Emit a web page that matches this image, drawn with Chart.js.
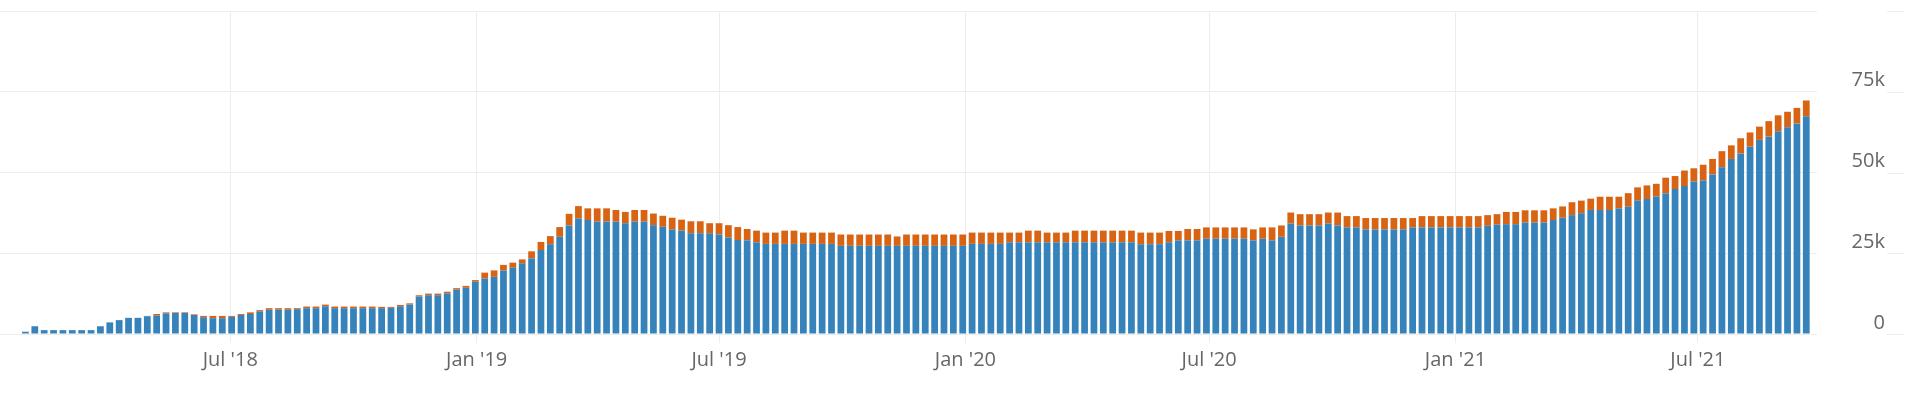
<!DOCTYPE html>
<html>
<head>
<meta charset="utf-8">
<script src="https://cdn.jsdelivr.net/npm/chart.js@4.4.1/dist/chart.umd.min.js"></script>
<style>
  html, body { margin: 0; padding: 0; background: #fff; }
  #wrap { width: 1914px; height: 393px; position: relative; }
</style>
</head>
<body>
<div id="wrap"><canvas id="weeklyChart"></canvas></div>
<script>
// first week shown and the visible date range
const firstWeek = '2018-01-29';
const axisStart = '2018-01-10';
const axisEnd = '2021-09-28';

// tick positions on the time axis and their labels
const tickDates = ['2018-07-01', '2019-01-01', '2019-07-01', '2020-01-01', '2020-07-01', '2021-01-01', '2021-07-01'];
const tickLabels = ["Jul '18", "Jan '19", "Jul '19", "Jan '20", "Jul '20", "Jan '21", "Jul '21"];

// lower (blue) series, one value per week
const blueValues = [
  700, 2400, 1200, 1200, 1200, 1200, 1200, 1200, 2400, 3600,
  4300, 5000, 5000, 5500, 5700, 6400, 6500, 6500, 5900, 5200,
  4900, 4900, 5300, 5900, 6200, 7000, 7500, 7500, 7500, 7700,
  8000, 8000, 8600, 8000, 8000, 8000, 8000, 8000, 8000, 8100,
  8600, 9100, 11600, 12000, 12000, 12600, 13700, 14300, 16200, 17200,
  17700, 19600, 20500, 21900, 23400, 26000, 27800, 30100, 33600, 35800,
  35300, 34800, 34800, 34800, 34300, 34800, 34800, 33700, 33200, 32400,
  32000, 31200, 31200, 31200, 30800, 29900, 29100, 29000, 28400, 27900,
  27900, 27900, 27900, 27900, 27900, 27900, 27900, 27300, 27300, 27300,
  27300, 27300, 27300, 27300, 27300, 27300, 27300, 27300, 27300, 27300,
  27300, 27900, 27900, 27900, 27900, 28400, 28400, 28400, 28400, 28400,
  28400, 28400, 28400, 28400, 28400, 28400, 28400, 28400, 28400, 27800,
  27800, 27800, 28400, 29000, 29000, 29000, 29500, 29500, 29500, 29500,
  29500, 29000, 29500, 29000, 30100, 34200, 33600, 33600, 33600, 34200,
  33600, 33000, 33000, 32400, 32400, 32400, 32400, 32400, 33000, 33000,
  33000, 33000, 33000, 33000, 33000, 33000, 33500, 33900, 34000, 34000,
  34500, 34500, 34500, 35300, 36000, 36800, 37400, 38400, 38400, 38400,
  38900, 39400, 41300, 41800, 42500, 43600, 44900, 45800, 47200, 47500,
  49400, 51600, 54200, 55900, 58000, 60100, 61100, 62800, 64000, 65200,
  67400
];

// upper (orange) series, stacked on top
const orangeValues = [
  0, 0, 0, 0, 0, 0, 0, 0, 0, 0,
  0, 0, 0, 100, 500, 300, 200, 200, 200, 400,
  700, 700, 300, 300, 500, 400, 500, 500, 500, 300,
  500, 500, 500, 500, 500, 500, 500, 500, 400, 300,
  400, 400, 400, 500, 500, 500, 500, 600, 500, 1800,
  2000, 1800, 1600, 1200, 2200, 2500, 2500, 3000, 3600, 3800,
  3600, 4100, 4100, 3600, 3500, 3600, 3600, 3600, 3400, 3600,
  3400, 3700, 3700, 3100, 3500, 3800, 4000, 3500, 3600, 3500,
  3500, 4100, 4100, 3500, 3500, 3500, 3500, 3500, 3500, 3500,
  3500, 3500, 3500, 2900, 3500, 3500, 3500, 3500, 3500, 3500,
  3500, 3500, 3500, 3500, 3500, 3000, 3000, 3600, 3600, 3000,
  3000, 3000, 3600, 3600, 3600, 3600, 3600, 3600, 3600, 3600,
  3600, 3600, 3500, 2900, 3500, 3500, 3500, 3500, 3500, 3500,
  3500, 3400, 3500, 4000, 3500, 3400, 3500, 3500, 3500, 3400,
  4000, 3500, 3500, 3500, 3500, 3500, 3500, 3500, 2900, 3500,
  3500, 3500, 3500, 3500, 3500, 3500, 3300, 3200, 3800, 3800,
  3800, 3800, 3800, 3600, 3500, 4000, 3900, 3500, 4100, 4100,
  3600, 4200, 4100, 4200, 4000, 4800, 4000, 4800, 4100, 4900,
  4800, 5000, 4200, 4700, 4400, 4100, 4800, 4900, 4800, 4800,
  4900
];

const DAY = 86400000;
const origin = Date.parse('2018-01-01');
function dayOf(s) { return (Date.parse(s) - origin) / DAY; }

// week start days (x positions on the linear day axis)
const weekDays = blueValues.map((v, i) => dayOf(firstWeek) + i * 7);
const tickDays = tickDates.map(dayOf);

const gridColor = '#ededed';
const labelColor = '#666';

// short grid stubs to the right of the y labels
const rightStubs = {
  id: 'rightStubs',
  afterDraw(chart) {
    const y = chart.scales.y;
    const c = chart.ctx;
    c.save();
    c.strokeStyle = gridColor;
    c.lineWidth = 1;
    y.ticks.forEach(t => {
      const py = Math.round(y.getPixelForValue(t.value)) + 0.5;
      c.beginPath();
      c.moveTo(y.right + 2, py);
      c.lineTo(y.right + 19, py);
      c.stroke();
    });
    c.restore();
  }
};

const ctx = document.getElementById('weeklyChart').getContext('2d');
new Chart(ctx, {
  type: 'bar',
  data: {
    datasets: [{
      label: 'Blue',
      data: blueValues.map((v, i) => ({ x: weekDays[i], y: v })),
      backgroundColor: '#3683bc',
      barPercentage: 0.72,
      categoryPercentage: 1
    }, {
      label: 'Orange',
      data: orangeValues.map((v, i) => ({ x: weekDays[i], y: v })),
      backgroundColor: '#d86413',
      barPercentage: 0.72,
      categoryPercentage: 1
    }]
  },
  options: {
    responsive: true,
    maintainAspectRatio: false,
    animation: false,
    layout: { padding: { top: 11, left: 0, right: 29, bottom: 0 } },
    plugins: {
      legend: { display: false },
      tooltip: { enabled: false }
    },
    scales: {
      x: {
        type: 'linear',
        stacked: true,
        offset: false,
        min: dayOf(axisStart),
        max: dayOf(axisEnd),
        afterBuildTicks: (scale) => {
          scale.ticks = tickDays.map(v => ({ value: v }));
        },
        afterFit: (scale) => { scale.height = 59; },
        grid: { color: gridColor, tickLength: 9, offset: false },
        border: { display: false },
        ticks: {
          autoSkip: false,
          maxRotation: 0,
          padding: 5,
          color: labelColor,
          font: { family: 'Open Sans', size: 20 },
          callback: (value, index) => tickLabels[index]
        }
      },
      y: {
        position: 'right',
        stacked: true,
        min: 0,
        max: 100000,
        afterFit: (scale) => { scale.width = 68; },
        grid: { color: gridColor, drawTicks: true, tickLength: 30, tickColor: 'rgba(0,0,0,0)' },
        border: { display: false },
        ticks: {
          stepSize: 25000,
          padding: 0,
          crossAlign: 'far',
          labelOffset: -11,
          color: labelColor,
          font: { family: 'Open Sans', size: 20, lineHeight: 1.1 },
          callback: (v) => v === 0 ? '0' : (v === 100000 ? '' : (v / 1000) + 'k')
        }
      }
    }
  },
  plugins: [rightStubs]
});
</script>
</body>
</html>
